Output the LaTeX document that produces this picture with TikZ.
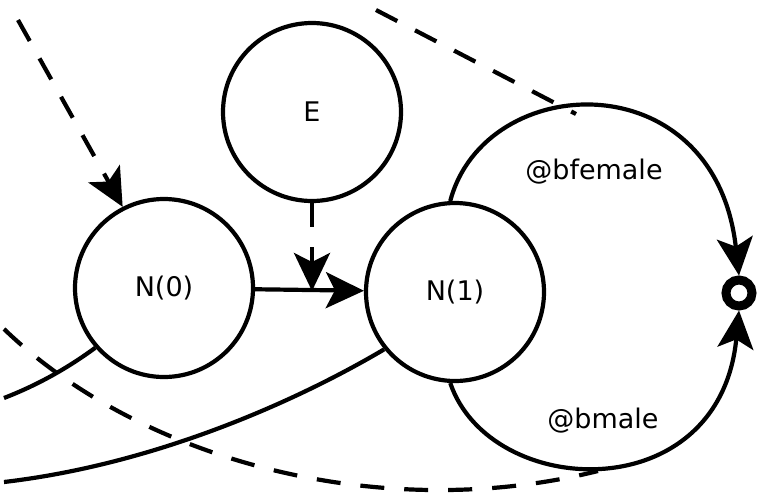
\documentclass[tikz,border=0pt]{standalone}
\usepackage{fontspec}
\setmainfont{DejaVu Sans}
\usetikzlibrary{arrows.meta}
\begin{document}
\begin{tikzpicture}[x=1pt,y=-1pt,
  every path/.style={line width=4.2pt},
  state/.style={circle,draw,line width=4.2pt,minimum size=178pt,inner sep=0pt,
                font=\fontsize{27}{32}\selectfont},
  final/.style={circle,draw,line width=9pt,minimum size=26pt,inner sep=0pt},
  tip/.style={-{Stealth[length=38pt,width=36pt,inset=9pt]}},
  dashline/.style={dash pattern=on 24pt off 20pt},
  lbl/.style={font=\fontsize{27}{32}\selectfont}]
\useasboundingbox (0,0) rectangle (764,493);

% states
\node[state] (e)  at (312,112) {E};
\node[state] (n0) at (164,288) {N(0)};
\node[state] (n1) at (455,292) {N(1)};
\node[final] (acc) at (739,293) {};

% free ends of the open connectors
\coordinate (inTop)   at (18,20);
\coordinate (mid)     at (312,291);
\coordinate (leftA)   at (4,398);
\coordinate (leftB)   at (4,482);
\coordinate (dTopA)   at (376,10);
\coordinate (dTopB)   at (576,114);
\coordinate (dBotA)   at (4,329);
\coordinate (dBotB)   at (598,471);

% transitions
\draw[tip] (n0) -- (n1);
\draw[tip,dashline] (inTop) -- (n0.117);
\draw[tip,dashline] (e) -- (mid);
\draw[tip] (n1.93) .. controls (485,70) and (715,60) .. (acc.north);
\draw[tip] (n1.267) .. controls (490,500) and (720,510) .. (acc.south);

\node[lbl] (lf) at (594,172) {@bfemale};
\node[lbl] (lm) at (603,421) {@bmale};

% open solid curves leaving the states
\draw (n0.221) .. controls (65,370) and (35,386) .. (leftA);
\draw (n1.219) .. controls (290,405) and (150,465) .. (leftB);

% dashed boundary
\draw[dashline] (dTopA) -- (dTopB);
\draw[dashline] (dBotA) .. controls (140,460) and (380,525) .. (dBotB);
\end{tikzpicture}
\end{document}
